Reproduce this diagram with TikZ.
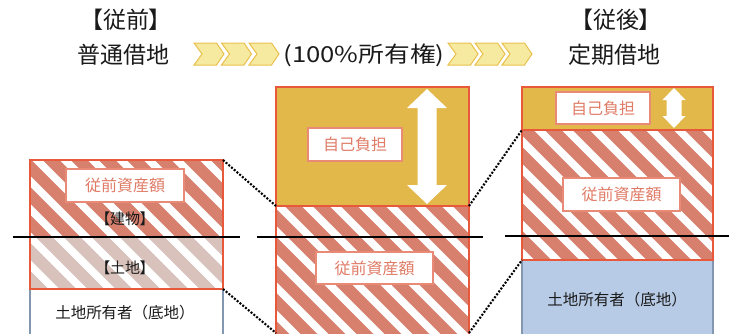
\documentclass[tikz,border=0pt]{standalone}
\usepackage{fontspec}
\setmainfont{Noto Sans CJK JP}
\newfontfamily\jpp[RawFeature=+palt]{Noto Sans CJK JP}
\definecolor{redb}{HTML}{E8583A}
\definecolor{stripe}{HTML}{D8806E}
\definecolor{lightstripe}{HTML}{D8C2BB}
\definecolor{gold}{HTML}{E3B84A}
\definecolor{bluefill}{HTML}{B8CBE6}
\definecolor{bluegray}{HTML}{8497B0}
\definecolor{lblborder}{HTML}{E88A76}
\definecolor{lbltext}{HTML}{E07B66}
\definecolor{chevfill}{HTML}{F6EAA0}
\definecolor{chevline}{HTML}{E9C04E}
\definecolor{ink}{HTML}{1A1A1A}
\newcommand{\myhatch}[5]{%
  \begin{scope}
    \clip (#1,#2) rectangle (#3,#4);
    \fill[white] (#1,#2) rectangle (#3,#4);
    \foreach \k in {-2,...,42} {
      \draw[#5, line width=12] (\k*28-400,400) -- (\k*28+400,-400);
    }
  \end{scope}}
\newcommand{\mychev}[1]{%
  \draw[chevfill style] (#1,290) -- ++(22.5,0) -- ++(7.5,-11) -- ++(-7.5,-11) -- ++(-22.5,0) -- ++(8,11) -- cycle;}
\newcommand{\dblarrow}[6]{% cx, ytop, ybot, head half width, shaft half width, head length
  \fill[white] (#1,#2) -- (#1+#4,#2-#6) -- (#1+#5,#2-#6) -- (#1+#5,#3+#6) -- (#1+#4,#3+#6) -- (#1,#3)
   -- (#1-#4,#3+#6) -- (#1-#5,#3+#6) -- (#1-#5,#2-#6) -- (#1-#4,#2-#6) -- cycle;}
\tikzset{
  chevfill style/.style={fill=chevfill, draw=chevline, line width=1},
  redframe/.style={draw=redb, line width=2.5},
  sideframe/.style={draw=bluegray, line width=2},
  cutline/.style={draw=black, line width=2},
  dotconn/.style={draw=black, line width=2.1, dash pattern=on 2pt off 1.6pt},
  lbl/.style={draw=lblborder, fill=white, line width=1.4, text=lbltext, inner sep=0,
    font=\fontsize{16}{16}\selectfont},
  head/.style={text=ink, font=\fontsize{23}{23}\selectfont, inner sep=0},
  intext/.style={text=ink, inner sep=0},
}
\begin{document}
\begin{tikzpicture}[x=1pt,y=1pt]
\useasboundingbox (0,0) rectangle (729,333);
\clip (0,0) rectangle (729,333);
% headers
\node[head] (h1) at (126,313) {\jpp 【従前】};
\node[head] (h2) at (123.5,278) {普通借地};
\node[head] (h3) at (616,313) {\jpp 【従後】};
\node[head] (h4) at (614.5,278) {定期借地};
\node[head, font=\fontsize{22}{22}\selectfont] (h5) at (364,278) {\scalebox{1.17}[1]{(100\%所有権)}};
\foreach \x in {194,221.5,249} {\mychev{\x}}
\foreach \x in {448,475,502} {\mychev{\x}}
% left column
\myhatch{30}{96}{223}{173}{stripe}
\myhatch{30}{44}{223}{96}{lightstripe}
\path[fill=white] (30,-5) rectangle (223,44);
\draw[sideframe] (30,-5) rectangle (223,44);
\draw[redframe] (30,44) rectangle (223,173);
% middle column
\fill[gold] (276,127) rectangle (469,246);
\myhatch{276}{-5}{469}{127}{stripe}
\draw[redframe] (276,127) rectangle (469,246);
\draw[redframe] (276,-5) rectangle (469,127);
\dblarrow{427}{244}{129}{20}{9.5}{19}
% right column
\fill[gold] (522,203) rectangle (713,246);
\myhatch{522}{73}{713}{203}{stripe}
\fill[bluefill] (522,-5) rectangle (713,73);
\draw[sideframe] (522,-5) rectangle (713,73);
\draw[redframe] (522,203) rectangle (713,246);
\draw[redframe] (522,73) rectangle (713,203);
\dblarrow{674}{245}{205}{11.5}{7.5}{12}
% cut lines
\coordinate (c1a) at (13,96);  \coordinate (c1b) at (240,96);
\coordinate (c2a) at (257,96); \coordinate (c2b) at (483,96);
\coordinate (c3a) at (505,97); \coordinate (c3b) at (729,97);
\draw[cutline] (c1a) -- (c1b);
\draw[cutline] (c2a) -- (c2b);
\draw[cutline] (c3a) -- (c3b);
% labels
\node[lbl, minimum width=118, minimum height=33] (L1) at (125,147.5) {従前資産額};
\node[intext, font=\fontsize{15}{15}\selectfont] (L2) at (125,114) {\jpp 【建物】};
\node[intext, font=\fontsize{15}{15}\selectfont] (L3) at (125,65) {\jpp 【土地】};
\node[intext, font=\fontsize{15.5}{15.5}\selectfont] (L4) at (125,20) {土地所有者（底地）};
\node[lbl, minimum width=94, minimum height=33] (M1) at (355,188.5) {自己負担};
\node[lbl, minimum width=117, minimum height=32] (M2) at (374.5,65) {従前資産額};
\node[lbl, minimum width=94, minimum height=32] (R1) at (603,225) {自己負担};
\node[lbl, minimum width=117, minimum height=33] (R2) at (621.5,138.5) {従前資産額};
\node[intext, font=\fontsize{15.5}{15.5}\selectfont] (R3) at (617,33) {土地所有者（底地）};
% dotted connectors
\coordinate (p1) at (223,173); \coordinate (q1) at (276,127);
\coordinate (p2) at (223,44);  \coordinate (q2) at (276,0);
\coordinate (p3) at (469,127); \coordinate (q3) at (522,203);
\coordinate (p4) at (469,0);   \coordinate (q4) at (522,73);
\draw[dotconn] (p1) -- (q1);
\draw[dotconn] (p2) -- (q2);
\draw[dotconn] (p3) -- (q3);
\draw[dotconn] (p4) -- (q4);
\end{tikzpicture}
\end{document}
